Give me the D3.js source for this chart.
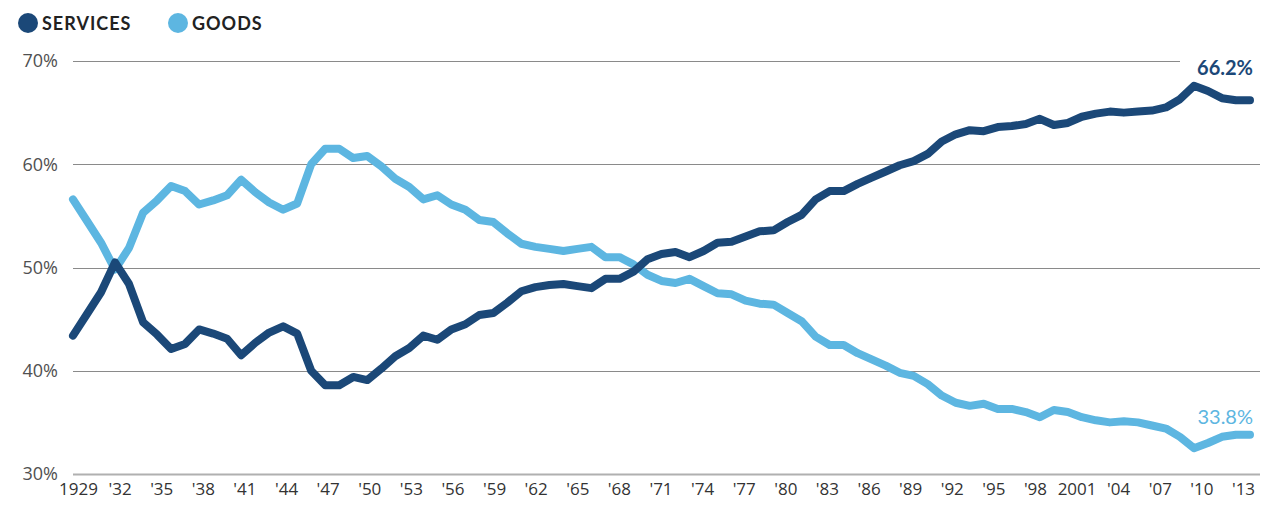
<!DOCTYPE html>
<html>
<head>
<meta charset="utf-8">
<script src="https://cdn.jsdelivr.net/npm/d3@7"></script>
<style>
  html, body { margin: 0; padding: 0; background: #fff; }
  svg { display: block; }
</style>
</head>
<body>
<svg id="chart" width="1265" height="510"></svg>
<script>
const years = d3.range(1929, 2014);
const services = [
  43.4, 45.5, 47.6, 50.5, 48.4, 44.7, 43.5, 42.1, 42.6, 44.0,
  43.6, 43.1, 41.5, 42.7, 43.7, 44.3, 43.6, 40.0, 38.6, 38.6,
  39.4, 39.1, 40.2, 41.4, 42.2, 43.4, 43.0, 44.0, 44.5, 45.4,
  45.6, 46.6, 47.7, 48.1, 48.3, 48.4, 48.2, 48.0, 48.9, 48.9,
  49.6, 50.8, 51.3, 51.5, 51.0, 51.6, 52.4, 52.5, 53.0, 53.5,
  53.6, 54.4, 55.1, 56.6, 57.4, 57.4, 58.1, 58.7, 59.3, 59.9,
  60.3, 61.0, 62.2, 62.9, 63.3, 63.2, 63.6, 63.7, 63.9, 64.4,
  63.8, 64.0, 64.6, 64.9, 65.1, 65.0, 65.1, 65.2, 65.5, 66.3,
  67.6, 67.1, 66.4, 66.2, 66.2
];
const goods = [
  56.6, 54.5, 52.4, 49.8, 51.9, 55.3, 56.5, 57.9, 57.4, 56.1,
  56.5, 57.0, 58.5, 57.3, 56.3, 55.6, 56.2, 60.0, 61.5, 61.5,
  60.6, 60.8, 59.8, 58.6, 57.8, 56.6, 57.0, 56.1, 55.6, 54.6,
  54.4, 53.3, 52.3, 52.0, 51.8, 51.6, 51.8, 52.0, 51.0, 51.0,
  50.3, 49.3, 48.7, 48.5, 48.9, 48.2, 47.5, 47.4, 46.8, 46.5,
  46.4, 45.6, 44.8, 43.3, 42.5, 42.5, 41.7, 41.1, 40.5, 39.8,
  39.5, 38.7, 37.6, 36.9, 36.6, 36.8, 36.3, 36.3, 36.0, 35.5,
  36.2, 36.0, 35.5, 35.2, 35.0, 35.1, 35.0, 34.7, 34.4, 33.6,
  32.5, 33.0, 33.6, 33.8, 33.8
];
const yTicks = [30, 40, 50, 60, 70];
const xTickYears = d3.range(1929, 2014, 3);
const seriesNames = ["SERVICES", "GOODS"];
const endLabels = ["66.2%", "33.8%"];

const colors = { services: "#1b4878", goods: "#5db6e1" };

const svg = d3.select("#chart");
const x = d3.scaleLinear().domain([1929, 2013]).range([73, 1250]);
const xLab = d3.scaleLinear().domain([1929, 2013]).range([78, 1243]);
const y = d3.scaleLinear().domain([30, 70]).range([474, 61]);

// gridlines
const grid = svg.append("g");
yTicks.forEach(t => {
  grid.append("line")
    .attr("x1", 73)
    .attr("x2", t === 70 ? 1180 : 1260)
    .attr("y1", Math.round(y(t)) + 0.5)
    .attr("y2", Math.round(y(t)) + 0.5)
    .attr("stroke", t === 30 ? "#b0b0b0" : "#8a8a8a")
    .attr("stroke-width", t === 30 ? 2 : 1);
});

// y labels
const yAxis = d3.axisLeft(y).tickValues(yTicks).tickSize(0).tickPadding(0)
  .tickFormat(d => d + "%");
const ya = svg.append("g").attr("transform", "translate(58,0)").call(yAxis);
ya.select(".domain").remove();
ya.selectAll("text")
  .attr("font-family", "'Open Sans', Lato, sans-serif")
  .attr("font-size", 18)
  .attr("font-weight", 400)
  .attr("fill", "#505050")
  .attr("dy", "0.32em");

// x labels
const xAxis = d3.axisBottom(xLab).tickValues(xTickYears).tickSize(0).tickPadding(0)
  .tickFormat(d => (d === 1929 || d === 2001) ? String(d) : "'" + String(d).slice(2));
const xa = svg.append("g").attr("transform", "translate(0,483)").call(xAxis);
xa.select(".domain").remove();
xa.selectAll("text")
  .attr("font-family", "'Open Sans', Lato, sans-serif")
  .attr("font-size", 17)
  .attr("font-weight", 400)
  .attr("fill", "#333")
  .attr("dy", "0.71em");

// lines
const line = d3.line().x((d, i) => x(years[i])).y(d => y(d));
svg.append("path").datum(goods)
  .attr("d", line).attr("fill", "none")
  .attr("stroke", colors.goods).attr("stroke-width", 8)
  .attr("stroke-linejoin", "round").attr("stroke-linecap", "round");
svg.append("path").datum(services)
  .attr("d", line).attr("fill", "none")
  .attr("stroke", colors.services).attr("stroke-width", 8)
  .attr("stroke-linejoin", "round").attr("stroke-linecap", "round");

// end labels
svg.append("text").attr("x", 1253).attr("y", 75).attr("text-anchor", "end")
  .attr("font-family", "Lato, 'Open Sans', sans-serif").attr("font-size", 20)
  .attr("font-weight", "bold").attr("fill", colors.services).text(endLabels[0]);
svg.append("text").attr("x", 1253).attr("y", 424).attr("text-anchor", "end")
  .attr("font-family", "Lato, 'Open Sans', sans-serif").attr("font-size", 20)
  .attr("fill", colors.goods).text(endLabels[1]);

// legend
const legend = svg.append("g");
const legX = [28, 178];
const legC = [colors.services, colors.goods];
seriesNames.forEach((n, i) => {
  legend.append("circle").attr("cx", legX[i]).attr("cy", 23).attr("r", 10).attr("fill", legC[i]);
  legend.append("text").attr("x", legX[i] + 14).attr("y", 30)
    .attr("font-family", "Lato, 'Open Sans', sans-serif").attr("font-size", 18)
    .attr("font-weight", "bold").attr("letter-spacing", "1px")
    .attr("fill", "#222").text(n);
});
</script>
</body>
</html>
